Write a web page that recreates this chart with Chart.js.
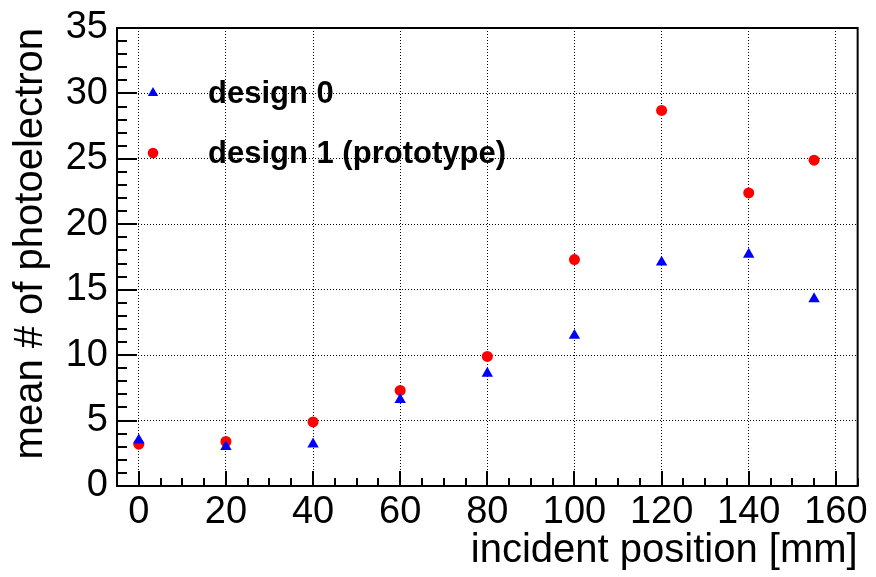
<!DOCTYPE html>
<html>
<head>
<meta charset="utf-8">
<script src="https://cdn.jsdelivr.net/npm/chart.js@4.4.1/dist/chart.umd.min.js"></script>
<style>
  html, body { margin: 0; padding: 0; background: #fff; }
  canvas { display: block; }
</style>
</head>
<body>
<canvas id="chart" width="876" height="577"></canvas>
<script>
// incident position [mm]
const positions = [0, 20, 40, 60, 80, 100, 120, 140, 155];
// mean number of photoelectrons
const design0 = [3.5, 3.0, 3.2, 6.6, 8.6, 11.5, 17.1, 17.7, 14.3];
const design1 = [3.2, 3.4, 4.9, 7.3, 9.9, 17.3, 28.7, 22.4, 24.9];

const xTicks = [0, 20, 40, 60, 80, 100, 120, 140, 160];
const yTicks = [0, 5, 10, 15, 20, 25, 30, 35];
const seriesNames = ['design 0', 'design 1 (prototype)'];

const FONT = "'Liberation Sans', Arial, Helvetica, sans-serif";
const BLUE = '#0000ff';
const RED = '#ff0000';

function toPoints(values) {
  return positions.map((x, i) => ({ x, y: values[i] }));
}

// ROOT-like frame, inner ticks and in-plot legend
const rootStyle = {
  id: 'rootStyle',
  afterDatasetsDraw(chart) {
    const { ctx, chartArea: a, scales: { x, y } } = chart;
    ctx.save();
    ctx.strokeStyle = '#000';
    ctx.lineWidth = 2;
    ctx.beginPath();
    for (let v = -5; v <= 165; v += 5) {
      const px = Math.round(x.getPixelForValue(v));
      const len = v % 20 === 0 ? 15 : 8;
      ctx.moveTo(px, a.bottom);
      ctx.lineTo(px, a.bottom - len);
    }
    for (let v = 0; v <= 35; v += 1) {
      const py = Math.round(y.getPixelForValue(v));
      const len = v % 5 === 0 ? 20 : 10;
      ctx.moveTo(a.left, py);
      ctx.lineTo(a.left + len, py);
    }
    ctx.stroke();
    ctx.strokeRect(a.left, a.top, a.right - a.left, a.bottom - a.top);

    // legend
    const mx = 153, tx = 208;
    ctx.fillStyle = BLUE;
    ctx.beginPath();
    const r = 6;
    ctx.moveTo(mx, 93 - r);
    ctx.lineTo(mx + r * 0.866, 93 + r / 2);
    ctx.lineTo(mx - r * 0.866, 93 + r / 2);
    ctx.closePath();
    ctx.fill();
    ctx.fillStyle = RED;
    ctx.beginPath();
    ctx.arc(mx, 153, 5.3, 0, Math.PI * 2);
    ctx.fill();

    ctx.fillStyle = '#000';
    ctx.font = 'bold 31px ' + FONT;
    ctx.textAlign = 'left';
    ctx.textBaseline = 'alphabetic';
    ctx.fillText(seriesNames[0], tx, 103);
    ctx.fillText(seriesNames[1], tx, 163);
    ctx.restore();
  }
};

new Chart(document.getElementById('chart'), {
  type: 'scatter',
  data: {
    datasets: [
      {
        label: seriesNames[0],
        data: toPoints(design0),
        pointStyle: 'triangle',
        pointRadius: 6.6,
        pointBackgroundColor: BLUE,
        pointBorderColor: BLUE,
        pointBorderWidth: 0,
        showLine: false
      },
      {
        label: seriesNames[1],
        data: toPoints(design1),
        pointStyle: 'circle',
        pointRadius: 5.5,
        pointBackgroundColor: RED,
        pointBorderColor: RED,
        pointBorderWidth: 0,
        showLine: false
      }
    ]
  },
  options: {
    responsive: false,
    animation: false,
    layout: { padding: { top: 23, right: 15, left: 0, bottom: 0 } },
    plugins: {
      legend: { display: false },
      tooltip: { enabled: false }
    },
    scales: {
      x: {
        type: 'linear',
        min: -5,
        max: 165,
        afterBuildTicks: (scale) => { scale.ticks = xTicks.map(v => ({ value: v })); },
        afterFit: (scale) => { scale.height = 91; },
        grid: { color: '#000', lineWidth: 1, drawTicks: false },
        border: { display: false, dash: [1, 2] },
        ticks: {
          color: '#000',
          padding: 8,
          maxRotation: 0,
          font: { family: FONT, size: 38, lineHeight: 1 }
        },
        title: {
          display: true,
          text: 'incident position [mm]',
          align: 'end',
          color: '#000',
          padding: { top: 0, bottom: 2 },
          font: { family: FONT, size: 40 }
        }
      },
      y: {
        type: 'linear',
        min: 0,
        max: 35,
        afterBuildTicks: (scale) => { scale.ticks = yTicks.map(v => ({ value: v })); },
        afterFit: (scale) => { scale.width = 117; },
        grid: { color: '#000', lineWidth: 1, drawTicks: false },
        border: { display: false, dash: [1, 2] },
        ticks: {
          color: '#000',
          padding: 9,
          font: { family: FONT, size: 38, lineHeight: 1 }
        },
        title: {
          display: true,
          text: 'mean # of photoelectron',
          align: 'end',
          color: '#000',
          padding: { top: 7, bottom: 0 },
          font: { family: FONT, size: 40 }
        }
      }
    }
  },
  plugins: [rootStyle]
});
</script>
</body>
</html>
